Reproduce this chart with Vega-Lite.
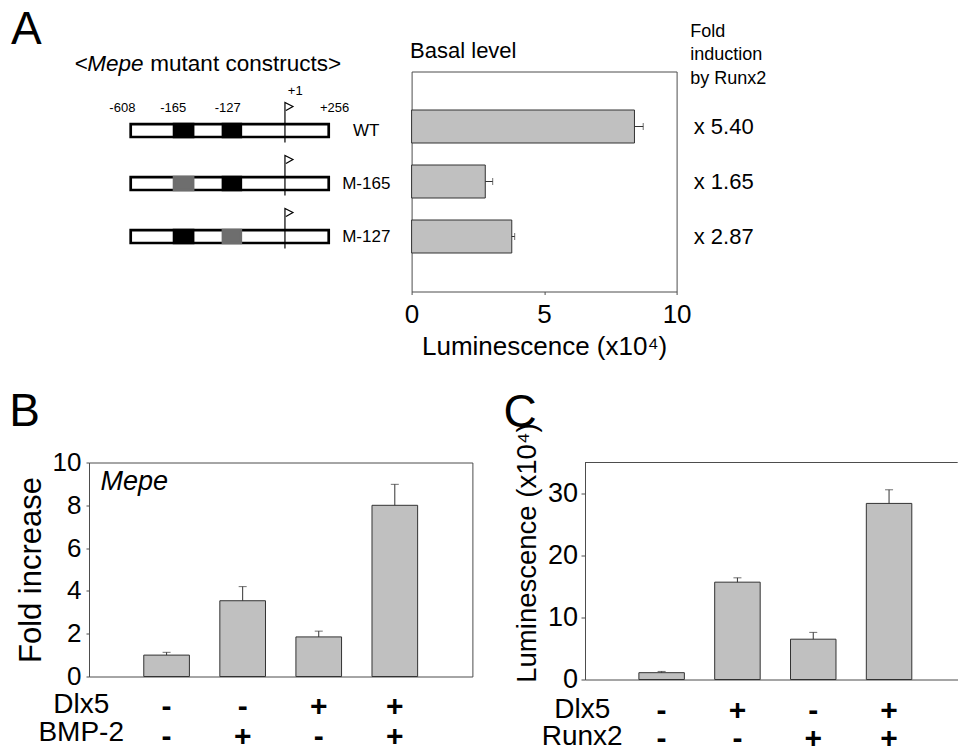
{
  "$schema": "https://vega.github.io/schema/vega-lite/v6.json",
  "padding": {"left": 9, "top": 6.5, "right": 0, "bottom": 0},
  "config": {
    "font": "Liberation Sans",
    "view": {"stroke": null},
    "title": {"fontWeight": "normal", "color": "black", "subtitleColor": "black"},
    "axis": {"labelColor": "black", "titleColor": "black", "titleFontWeight": "normal", "domainColor": "#4d4d4d", "tickColor": "#4d4d4d", "grid": false}
  },
  "datasets": {
    "constructs": [
      {"construct": "WT", "lum": 8.41, "err": 8.74, "fold": 5.40},
      {"construct": "M-165", "lum": 2.78, "err": 3.06, "fold": 1.65},
      {"construct": "M-127", "lum": 3.78, "err": 3.89, "fold": 2.87}
    ],
    "schem": [
      {"construct": "WT", "kind": "box", "start": 0, "end": 100},
      {"construct": "M-165", "kind": "box", "start": 0, "end": 100},
      {"construct": "M-127", "kind": "box", "start": 0, "end": 100},
      {"construct": "WT", "kind": "intact", "start": 21.9, "end": 31.5},
      {"construct": "WT", "kind": "intact", "start": 46.6, "end": 55.6},
      {"construct": "M-165", "kind": "mutated", "start": 21.9, "end": 31.5},
      {"construct": "M-165", "kind": "intact", "start": 46.6, "end": 55.6},
      {"construct": "M-127", "kind": "intact", "start": 21.9, "end": 31.5},
      {"construct": "M-127", "kind": "mutated", "start": 46.6, "end": 55.6},
      {"construct": "WT", "kind": "tss", "start": 77.9},
      {"construct": "M-165", "kind": "tss", "start": 77.9},
      {"construct": "M-127", "kind": "tss", "start": 77.9},
      {"construct": "WT", "kind": "coord", "label": "-608", "start": -4.2},
      {"construct": "WT", "kind": "coord", "label": "-165", "start": 21.5},
      {"construct": "WT", "kind": "coord", "label": "-127", "start": 49},
      {"construct": "WT", "kind": "coord", "label": "+256", "start": 103},
      {"construct": "WT", "kind": "tsslabel", "label": "+1", "start": 83.1}
    ],
    "bdata": [
      {"cond": "-|-", "fold": 1.0, "err": 1.13},
      {"cond": "-|+", "fold": 3.54, "err": 4.2},
      {"cond": "+|-", "fold": 1.85, "err": 2.12},
      {"cond": "+|+", "fold": 8.0, "err": 8.98}
    ],
    "cdata": [
      {"cond": "-|-", "lum": 1.1, "err": 1.3},
      {"cond": "+|-", "lum": 15.7, "err": 16.4},
      {"cond": "-|+", "lum": 6.5, "err": 7.6},
      {"cond": "+|+", "lum": 28.4, "err": 30.6}
    ]
  },
  "vconcat": [
    {
      "hconcat": [
        {
          "width": 305.85,
          "height": 220,
          "data": {"name": "schem"},
          "title": {
            "text": "<\u00a0\u00a0\u00a0\u00a0\u00a0\u00a0\u00a0\u00a0\u00a0\u00a0mutant constructs>",
            "subtitle": "\u200b\u00a0\u00a0Mepe",
            "fontSize": 22.5, "subtitleFontSize": 22.5, "subtitleFontStyle": "italic", "subtitlePadding": -22.5,
            "anchor": "start", "frame": "group", "dx": -14.3, "offset": -3.7
          },
          "encoding": {
            "y": {
              "field": "construct", "type": "nominal", "sort": ["WT", "M-165", "M-127"],
              "scale": {"paddingInner": 0.755, "paddingOuter": 0.953, "align": 0.52},
              "axis": {"orient": "right", "title": null, "domain": false, "ticks": false, "tickSize": 0, "labelAlign": "center", "labelPadding": -29.1, "labelFontSize": 17}
            }
          },
          "layer": [
            {
              "transform": [{"filter": "datum.kind === 'box'"}],
              "mark": {"type": "rect", "fill": "white", "stroke": "black", "strokeWidth": 2.7},
              "encoding": {
                "x": {"field": "start", "type": "quantitative", "scale": {"domain": [-21.06, 133.4], "nice": false, "zero": false}, "axis": null},
                "x2": {"field": "end"}
              }
            },
            {
              "transform": [{"filter": "datum.kind === 'intact' || datum.kind === 'mutated'"}],
              "mark": {"type": "rect", "strokeWidth": 2.7},
              "encoding": {
                "x": {"field": "start", "type": "quantitative"},
                "x2": {"field": "end"},
                "fill": {"field": "kind", "type": "nominal", "scale": {"domain": ["intact", "mutated"], "range": ["#000000", "#6e6e6e"]}, "legend": null},
                "stroke": {"field": "kind", "type": "nominal", "scale": {"domain": ["intact", "mutated"], "range": ["#000000", "#6e6e6e"]}, "legend": null}
              }
            },
            {
              "transform": [{"filter": "datum.kind === 'tss'"}],
              "mark": {"type": "point", "shape": "M0,12L0,-28L8,-24L1,-20", "size": 4, "filled": false, "stroke": "black", "strokeWidth": 1.2, "opacity": 1},
              "encoding": {"x": {"field": "start", "type": "quantitative"}}
            },
            {
              "transform": [{"filter": "datum.kind === 'coord'"}],
              "mark": {"type": "text", "fontSize": 13, "baseline": "middle", "dy": -23},
              "encoding": {"x": {"field": "start", "type": "quantitative"}, "text": {"field": "label"}}
            },
            {
              "transform": [{"filter": "datum.kind === 'tsslabel'"}],
              "mark": {"type": "text", "fontSize": 13, "baseline": "middle", "dy": -40},
              "encoding": {"x": {"field": "start", "type": "quantitative"}, "text": {"field": "label"}}
            }
          ]
        },
        {
          "width": 265,
          "height": 220,
          "data": {"name": "constructs"},
          "view": {"stroke": "#4d4d4d"},
          "title": {"text": "Basal level", "fontSize": 22, "anchor": "start", "frame": "group", "offset": 8.4, "dx": -1.5},
          "encoding": {
            "y": {"field": "construct", "type": "nominal", "sort": ["WT", "M-165", "M-127"], "scale": {"paddingInner": 0.4, "paddingOuter": 0.7}, "axis": null}
          },
          "layer": [
            {
              "mark": {"type": "bar", "fill": "#c0c0c0", "stroke": "#333333", "strokeWidth": 1},
              "encoding": {
                "x": {
                  "field": "lum", "type": "quantitative", "scale": {"domain": [0, 10], "nice": false},
                  "axis": {"values": [0, 5, 10], "title": "Luminescence (x10⁴)", "titleFontSize": 26, "labelFontSize": 26, "tickSize": 3, "labelPadding": 7, "titlePadding": 5.5, "domain": false, "labelFlush": false}
                }
              }
            },
            {
              "mark": {"type": "rule", "color": "#333333", "strokeWidth": 1},
              "encoding": {"x": {"field": "lum", "type": "quantitative"}, "x2": {"field": "err"}}
            },
            {
              "mark": {"type": "tick", "color": "#333333", "size": 7, "thickness": 1},
              "encoding": {"x": {"field": "err", "type": "quantitative"}}
            }
          ]
        },
        {
          "width": 1,
          "height": 220,
          "data": {"name": "constructs"},
          "title": {"text": ["Fold", "induction", "by Runx2"], "fontSize": 18, "lineHeight": 23.3, "anchor": "start", "frame": "group", "offset": -16.1, "dx": -2.9},
          "transform": [{"calculate": "'x ' + format(datum.fold, '.2f')", "as": "foldLabel"}],
          "mark": {"type": "text", "align": "left", "baseline": "middle", "fontSize": 22},
          "encoding": {
            "y": {"field": "construct", "type": "nominal", "sort": ["WT", "M-165", "M-127"], "scale": {"type": "band", "paddingInner": 0.4, "paddingOuter": 0.7}, "axis": null},
            "text": {"field": "foldLabel"}
          }
        }
      ],
      "spacing": 16.6,
      "bounds": "flush",
      "title": {"text": "A", "fontSize": 46, "anchor": "start", "frame": "group", "offset": -30.7, "dx": -78}
    },
    {
      "hconcat": [
        {
          "vconcat": [
            {
              "width": 383.4,
              "height": 214,
              "data": {"name": "bdata"},
              "view": {"stroke": "#4d4d4d"},
              "title": {"text": "Mepe", "fontStyle": "italic", "fontSize": 27, "anchor": "start", "frame": "group", "offset": -46.2, "dx": 11.5},
              "layer": [
                {
                  "mark": {"type": "bar", "fill": "#c0c0c0", "stroke": "#333333", "strokeWidth": 1},
                  "encoding": {
                    "x": {
                      "field": "cond", "type": "nominal", "sort": null,
                      "scale": {"paddingInner": 0.4, "paddingOuter": 0.72},
                      "axis": {"title": ["Dlx5", "BMP-2"], "titleX": -8.3, "titleY": 36, "titleAlign": "center", "titleBaseline": "alphabetic", "titleFontSize": 28, "titleLineHeight": 27.5, "labelExpr": "split(datum.value, '|')", "labelFontSize": 30, "labelFontWeight": "bold", "labelLineHeight": 30, "labelPadding": 15, "labelAngle": 0, "ticks": false, "tickSize": 0, "domain": false}
                    },
                    "y": {
                      "field": "fold", "type": "quantitative", "scale": {"domain": [0, 10], "nice": false},
                      "axis": {"values": [0, 2, 4, 6, 8, 10], "title": "Fold increase", "titleFontSize": 31, "labelFontSize": 26, "tickSize": 3, "labelPadding": 5, "titlePadding": 5, "domain": false}
                    }
                  }
                },
                {
                  "mark": {"type": "rule", "color": "#333333", "strokeWidth": 1},
                  "encoding": {"x": {"field": "cond", "type": "nominal", "sort": null}, "y": {"field": "fold", "type": "quantitative"}, "y2": {"field": "err"}}
                },
                {
                  "mark": {"type": "tick", "color": "#333333", "size": 8, "thickness": 1},
                  "encoding": {"x": {"field": "cond", "type": "nominal", "sort": null}, "y": {"field": "err", "type": "quantitative"}}
                }
              ]
            }
          ],
          "bounds": "flush",
          "title": {"text": "B", "fontSize": 46, "anchor": "start", "frame": "group", "offset": 12.8, "dx": -79.7}
        },
        {
          "width": 372.7,
          "height": 217,
          "data": {"name": "cdata"},
          "layer": [
            {
              "mark": {"type": "bar", "fill": "#c0c0c0", "stroke": "#333333", "strokeWidth": 1},
              "encoding": {
                "x": {
                  "field": "cond", "type": "nominal", "sort": null,
                  "scale": {"paddingInner": 0.4, "paddingOuter": 0.658, "align": 0.54},
                  "axis": {"title": ["Dlx5", "Runx2"], "titleX": -3.3, "titleY": 38, "titleAlign": "center", "titleBaseline": "alphabetic", "titleFontSize": 28, "titleLineHeight": 26.5, "labelExpr": "split(datum.value, '|')", "labelFontSize": 30, "labelFontWeight": "bold", "labelLineHeight": 28.3, "labelPadding": 16, "labelAngle": 0, "ticks": false, "tickSize": 0, "domain": true}
                },
                "y": {
                  "field": "lum", "type": "quantitative", "scale": {"domain": [0, 35], "nice": false},
                  "axis": {"values": [0, 5, 10, 15, 20, 25, 30], "labelExpr": "datum.value % 10 === 0 ? datum.label : ''", "title": "Luminescence (x10⁴)", "titleFontSize": 27.5, "titleX": -50, "titleY": 90, "titleAlign": "center", "titleBaseline": "alphabetic", "titleAngle": 270, "labelFontSize": 27, "tickSize": 4, "labelPadding": 3.5, "domain": true}
                }
              }
            },
            {
              "mark": {"type": "rule", "color": "#333333", "strokeWidth": 1},
              "encoding": {"x": {"field": "cond", "type": "nominal", "sort": null}, "y": {"field": "lum", "type": "quantitative"}, "y2": {"field": "err"}}
            },
            {
              "mark": {"type": "tick", "color": "#333333", "size": 8, "thickness": 1},
              "encoding": {"x": {"field": "cond", "type": "nominal", "sort": null}, "y": {"field": "err", "type": "quantitative"}}
            },
            {
              "data": {"values": [{"top": 35}]},
              "mark": {"type": "rule", "color": "#4d4d4d", "strokeWidth": 1},
              "encoding": {"y": {"field": "top", "type": "quantitative"}}
            }
          ]
        }
      ],
      "spacing": 39,
      "bounds": "full",
      "title": {"text": "C", "fontSize": 46, "anchor": "start", "frame": "group", "offset": -48.2, "dx": 414.4}
    }
  ],
  "spacing": 29,
  "bounds": "full"
}
